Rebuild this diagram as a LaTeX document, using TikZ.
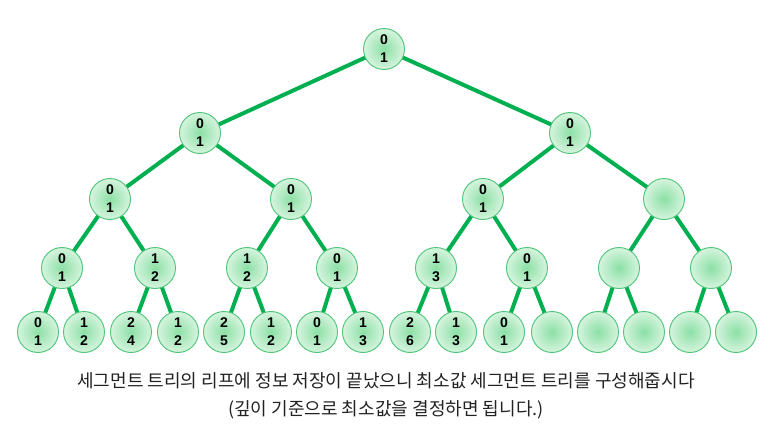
\documentclass[tikz,border=0pt]{standalone}
\usepackage{fontspec}
\setmainfont{Noto Sans CJK KR}
\newfontfamily\digitfont{Liberation Sans}
\usetikzlibrary{backgrounds}

\definecolor{edgegreen}{RGB}{0,176,80}
\definecolor{rimgreen}{RGB}{82,197,122}
\definecolor{innergreen}{RGB}{140,224,166}
\definecolor{outergreen}{RGB}{214,244,222}
\definecolor{captiongray}{RGB}{34,34,34}

\pgfdeclareradialshading{nodeglow}{\pgfpoint{0bp}{0bp}}{%
  color(0bp)=(innergreen); color(25bp)=(outergreen); color(50bp)=(outergreen)}

\begin{document}
\begin{tikzpicture}[
    x=0.03cm, y=-0.03cm,
    segnode/.style={
        circle,
        draw=rimgreen,
        line width=0.8pt,
        minimum size=1.23cm,
        inner sep=0pt,
        shading=nodeglow,
        align=center,
        font=\digitfont\fontsize{12}{15.3}\selectfont\bfseries
    },
    link/.style={
        draw=edgegreen,
        line width=3.4pt
    },
    caption/.style={
        text=captiongray,
        font=\fontsize{15.4}{18}\selectfont
    }
]

    \useasboundingbox (0,0) rectangle (773,435);

    % Root
    \node[segnode] (T1) at (384,49) {0\\1};

    % Level 1
    \node[segnode] (T2) at (200,133) {0\\1};
    \node[segnode] (T3) at (570,133) {0\\1};

    % Level 2
    \node[segnode] (T4) at (110,199) {0\\1};
    \node[segnode] (T5) at (291,199) {0\\1};
    \node[segnode] (T6) at (483,199) {0\\1};
    \node[segnode] (T7) at (664,199) {};

    % Level 3
    \node[segnode] (T8) at (62,268) {0\\1};
    \node[segnode] (T9) at (155,268) {1\\2};
    \node[segnode] (T10) at (247,268) {1\\2};
    \node[segnode] (T11) at (337,268) {0\\1};
    \node[segnode] (T12) at (436,268) {1\\3};
    \node[segnode] (T13) at (527,268) {0\\1};
    \node[segnode] (T14) at (619,268) {};
    \node[segnode] (T15) at (711,268) {};

    % Leaves
    \node[segnode] (T16) at (38,332) {0\\1};
    \node[segnode] (T17) at (84,332) {1\\2};
    \node[segnode] (T18) at (131,332) {2\\4};
    \node[segnode] (T19) at (178,332) {1\\2};
    \node[segnode] (T20) at (224,332) {2\\5};
    \node[segnode] (T21) at (271,332) {1\\2};
    \node[segnode] (T22) at (317,332) {0\\1};
    \node[segnode] (T23) at (363,332) {1\\3};
    \node[segnode] (T24) at (410,332) {2\\6};
    \node[segnode] (T25) at (456,332) {1\\3};
    \node[segnode] (T26) at (504,332) {0\\1};
    \node[segnode] (T27) at (552,332) {};
    \node[segnode] (T28) at (598,332) {};
    \node[segnode] (T29) at (644,332) {};
    \node[segnode] (T30) at (690,332) {};
    \node[segnode] (T31) at (736,332) {};

    % Edges (parent i -> children 2i, 2i+1)
    \begin{pgfonlayer}{background}
        \foreach \i [evaluate=\i as \l using int(2*\i),
                     evaluate=\i as \r using int(2*\i+1)] in {1,...,15} {
            \draw[link] (T\i.center) -- (T\l.center);
            \draw[link] (T\i.center) -- (T\r.center);
        }
    \end{pgfonlayer}

    % Caption
    \node[caption] (line1) at (386,381) {세그먼트 트리의 리프에 정보 저장이 끝났으니 최소값 세그먼트 트리를 구성해줍시다};
    \node[caption] (line2) at (386,410) {(깊이 기준으로 최소값을 결정하면 됩니다.)};

\end{tikzpicture}
\end{document}
